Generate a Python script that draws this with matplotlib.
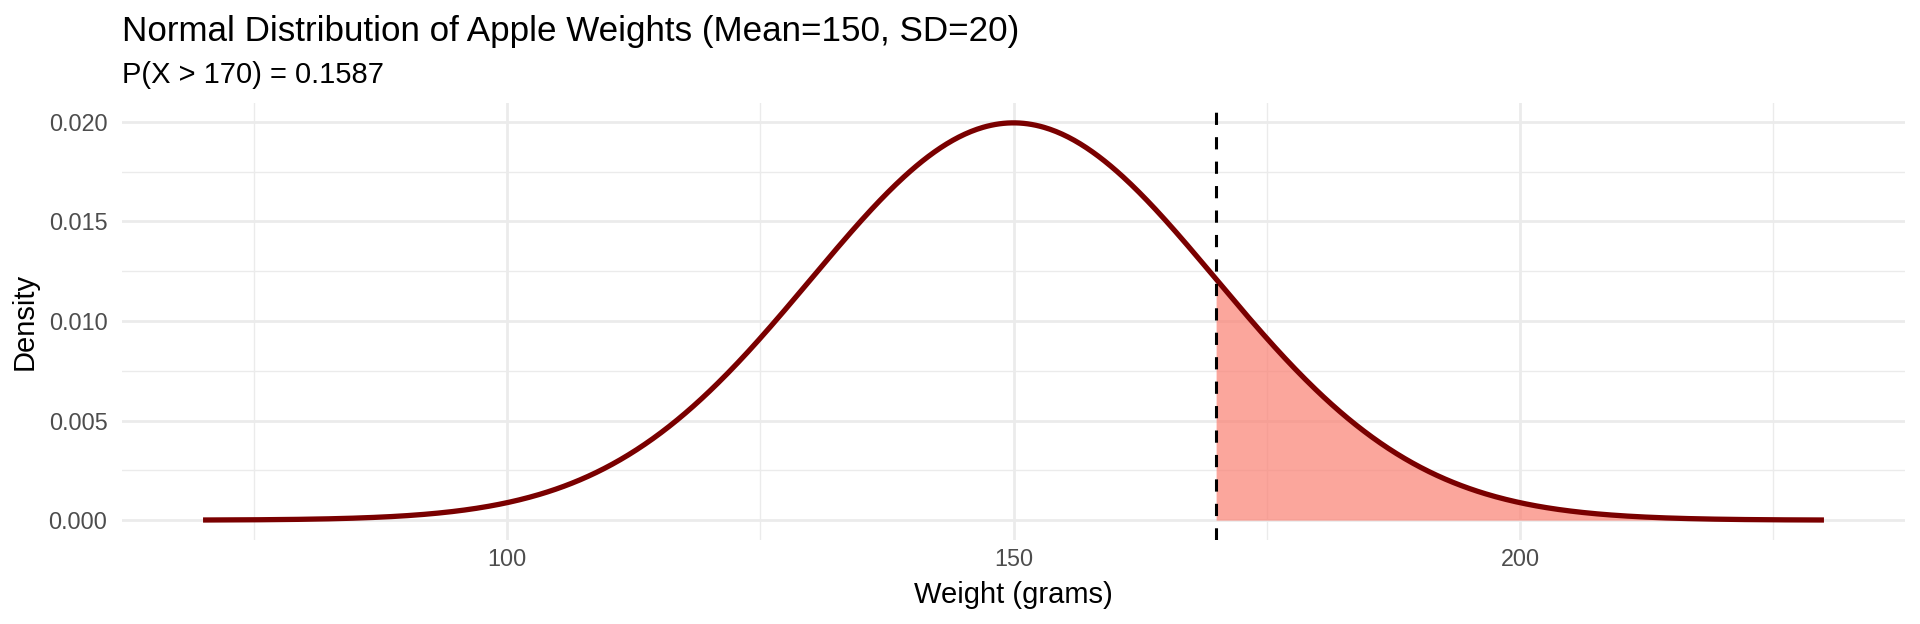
import numpy as np
import matplotlib
matplotlib.use("Agg")
import matplotlib.pyplot as plt
from matplotlib.ticker import MultipleLocator, FixedLocator

# ---- data ----
mean_weight = 150
sd_weight = 20
threshold = 170
x_min, x_max = 70, 230
prob_above = 0.1587
x_ticks = [100, 150, 200]
y_ticks = [0.000, 0.005, 0.010, 0.015, 0.020]
title = "Normal Distribution of Apple Weights (Mean=150, SD=20)"
subtitle = "P(X > 170) = 0.1587"
x_label = "Weight (grams)"
y_label = "Density"

weights = np.linspace(x_min, x_max, 801)
density = np.exp(-0.5 * ((weights - mean_weight) / sd_weight) ** 2) / (sd_weight * np.sqrt(2 * np.pi))

# ---- figure ----
W, H = 1920, 624
fig = plt.figure(figsize=(W / 100, H / 100), dpi=100)
plt.rcParams['font.family'] = ['Liberation Sans', 'DejaVu Sans']

L, R, T, B = 122, 1905, 103, 540
ax = fig.add_axes([L / W, 1 - B / H, (R - L) / W, (B - T) / H])

# ggplot-like expansion (5%)
xr = x_max - x_min
ax.set_xlim(x_min - 0.05 * xr, x_max + 0.05 * xr)
ymax = density.max()
ax.set_ylim(-0.05 * ymax, ymax * 1.05)

# grid
ax.set_axisbelow(True)
ax.xaxis.set_major_locator(FixedLocator(x_ticks))
ax.xaxis.set_minor_locator(FixedLocator([75, 125, 175, 225]))
ax.yaxis.set_major_locator(FixedLocator(y_ticks))
ax.yaxis.set_minor_locator(FixedLocator([0.0025, 0.0075, 0.0125, 0.0175]))
ax.grid(which='major', color='#EBEBEB', linewidth=2.0)
ax.grid(which='minor', color='#EBEBEB', linewidth=1.0)
for s in ax.spines.values():
    s.set_visible(False)
ax.tick_params(which='both', length=0)
ax.tick_params(axis='x', labelsize=16.8, labelcolor='#4D4D4D', pad=6)
ax.tick_params(axis='y', labelsize=16.8, labelcolor='#4D4D4D', pad=10.5)
ax.set_yticklabels([f"{v:.3f}" for v in y_ticks])

# shaded tail
mask = weights >= threshold
ax.fill_between(weights[mask], 0, density[mask], color='#FA8072', alpha=0.7, linewidth=0, zorder=2)
# curve
ax.plot(weights, density, color='#7A0000', linewidth=3.8, solid_capstyle='butt', zorder=3)
# threshold line
ax.axvline(threshold, color='black', linewidth=2.2, linestyle=(0, (4, 4)), zorder=4)

# labels
ax.set_xlabel(x_label, fontsize=21, color='black')
ax.xaxis.set_label_coords(0.5, -(603 - B) / (B - T))
ax.xaxis.label.set_verticalalignment('baseline')
ax.set_ylabel(y_label, fontsize=21, color='black')
ax.yaxis.set_label_coords((25 - L) / (R - L), 0.5)
ax.yaxis.label.set_verticalalignment('center')

fig.text(L / W, 1 - 41 / H, title, fontsize=25.2, color='black', ha='left', va='baseline')
fig.text(L / W, 1 - 83 / H, subtitle, fontsize=21, color='black', ha='left', va='baseline')

fig.savefig("out.png", dpi=100, facecolor='white')
